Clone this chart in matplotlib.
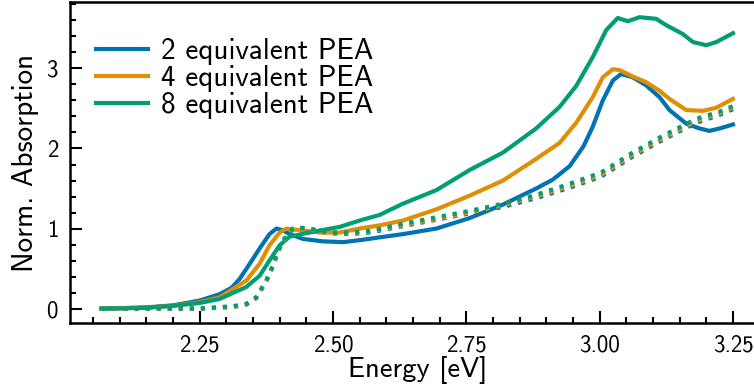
import matplotlib
matplotlib.use("Agg")
import matplotlib.pyplot as plt
from matplotlib.ticker import MultipleLocator, FormatStrFormatter

plt.rcParams['font.family'] = ['cmss10', 'DejaVu Sans']
plt.rcParams['axes.unicode_minus'] = False
plt.rcParams['axes.formatter.use_mathtext'] = True

# seaborn colorblind palette
blue = '#0173B2'
orange = '#DE8F05'
green = '#029E73'

labels = ['2 equivalent PEA', '4 equivalent PEA', '8 equivalent PEA']

# solid curves
e_2 = [2.066, 2.10, 2.15, 2.20, 2.25, 2.2875, 2.31, 2.325, 2.344, 2.3625, 2.381, 2.394,
       2.405, 2.419, 2.444, 2.481, 2.519, 2.556, 2.5875, 2.631, 2.694, 2.756, 2.819,
       2.881, 2.912, 2.944, 2.97, 2.987, 3.006, 3.025, 3.04, 3.062, 3.087, 3.1125,
       3.131, 3.1625, 3.1875, 3.206, 3.225, 3.25]
a_2 = [0.0, 0.005, 0.015, 0.04, 0.10, 0.18, 0.26, 0.37, 0.56, 0.75, 0.93, 1.0,
       0.98, 0.93, 0.87, 0.84, 0.83, 0.86, 0.89, 0.93, 1.0, 1.13, 1.30,
       1.50, 1.61, 1.78, 2.03, 2.27, 2.6, 2.85, 2.93, 2.89, 2.79, 2.64,
       2.48, 2.31, 2.25, 2.22, 2.25, 2.30]

e_4 = [2.066, 2.15, 2.20, 2.25, 2.2875, 2.3375, 2.3625, 2.381, 2.40, 2.4125, 2.4375,
       2.475, 2.5125, 2.55, 2.5875, 2.631, 2.694, 2.756, 2.819, 2.881, 2.925, 2.956,
       2.987, 3.006, 3.025, 3.0375, 3.062, 3.087, 3.1125, 3.131, 3.1625, 3.194,
       3.219, 3.25]
a_4 = [0.0, 0.01, 0.035, 0.08, 0.14, 0.35, 0.56, 0.79, 0.95, 1.0, 0.98,
       0.95, 0.95, 1.0, 1.04, 1.1, 1.24, 1.41, 1.6, 1.87, 2.07, 2.32,
       2.64, 2.89, 2.99, 2.98, 2.9, 2.83, 2.72, 2.62, 2.48, 2.47,
       2.51, 2.62]

e_8 = [2.066, 2.15, 2.20, 2.25, 2.2875, 2.3375, 2.3625, 2.381, 2.40, 2.419, 2.4375,
       2.475, 2.5125, 2.55, 2.5875, 2.631, 2.694, 2.756, 2.819, 2.881, 2.925, 2.956,
       2.987, 3.0125, 3.034, 3.053, 3.075, 3.106, 3.125, 3.156, 3.175, 3.2, 3.219,
       3.25]
a_8 = [0.0, 0.01, 0.035, 0.07, 0.12, 0.27, 0.41, 0.6, 0.79, 0.9, 0.925,
       0.975, 1.02, 1.1, 1.17, 1.31, 1.48, 1.73, 1.95, 2.25, 2.52, 2.78,
       3.14, 3.48, 3.63, 3.59, 3.64, 3.62, 3.54, 3.43, 3.33, 3.29, 3.33,
       3.44]

# dotted curves (no legend entry)
e_dot = [2.066, 2.15, 2.25, 2.3125, 2.3375, 2.356, 2.375, 2.3875, 2.396, 2.406, 2.425,
         2.44, 2.456, 2.494, 2.531, 2.569, 2.631, 2.694, 2.756, 2.819, 2.881, 2.944,
         3.003, 3.0625, 3.119, 3.181, 3.225, 3.25]
d_2 = [0.0, 0.0, 0.0, 0.02, 0.05, 0.13, 0.34, 0.53, 0.69, 0.84, 0.99,
       1.0, 0.99, 0.94, 0.93, 0.95, 1.03, 1.11, 1.19, 1.27, 1.38, 1.51,
       1.65, 1.90, 2.11, 2.32, 2.42, 2.49]
d_4 = [0.0, 0.0, 0.0, 0.02, 0.05, 0.13, 0.34, 0.53, 0.69, 0.84, 0.99,
       1.0, 0.99, 0.94, 0.94, 0.96, 1.04, 1.12, 1.20, 1.29, 1.40, 1.53,
       1.67, 1.92, 2.13, 2.34, 2.44, 2.51]
d_8 = [0.0, 0.0, 0.0, 0.03, 0.06, 0.14, 0.35, 0.54, 0.70, 0.85, 1.0,
       1.01, 1.0, 0.95, 0.95, 0.97, 1.06, 1.14, 1.22, 1.31, 1.42, 1.56,
       1.70, 1.95, 2.16, 2.37, 2.46, 2.53]

fig = plt.figure(figsize=(7.54, 3.91), dpi=100)
ax = fig.add_axes([70 / 754, 68 / 391, 694.4 / 754, 321 / 391])

ax.plot(e_2, a_2, color=blue, lw=3, label=labels[0])
ax.plot(e_4, a_4, color=orange, lw=3, label=labels[1])
ax.plot(e_8, a_8, color=green, lw=3, label=labels[2])
ax.plot(e_dot, d_2, color=blue, lw=3, ls=':')
ax.plot(e_dot, d_4, color=orange, lw=3, ls=':')
ax.plot(e_dot, d_8, color=green, lw=3, ls=':')

ax.set_xlim(2.007, 3.309)
ax.set_ylim(-0.18, 3.83)

ax.xaxis.set_major_locator(MultipleLocator(0.25))
ax.xaxis.set_minor_locator(MultipleLocator(0.05))
ax.yaxis.set_major_locator(MultipleLocator(1))
ax.yaxis.set_minor_locator(MultipleLocator(0.2))
ax.xaxis.set_major_formatter(FormatStrFormatter('%.2f'))

ax.tick_params(which='both', direction='in', width=1.5, pad=8, labelsize=16.5,
               top=False, right=False)
ax.tick_params(which='major', length=8.4)
ax.tick_params(which='minor', length=4.6)
for s in ax.spines.values():
    s.set_linewidth(1.8)

ax.set_xlabel('Energy [eV]', fontsize=20.5, labelpad=0)
ax.set_ylabel('Norm. Absorption', fontsize=21, labelpad=5)

ax.legend(loc='upper left', bbox_to_anchor=(0.02, 0.925), frameon=False, fontsize=21,
          handlelength=1.8, handletextpad=0.45, labelspacing=0.0, borderaxespad=0)

fig.savefig('out.png', dpi=100)
